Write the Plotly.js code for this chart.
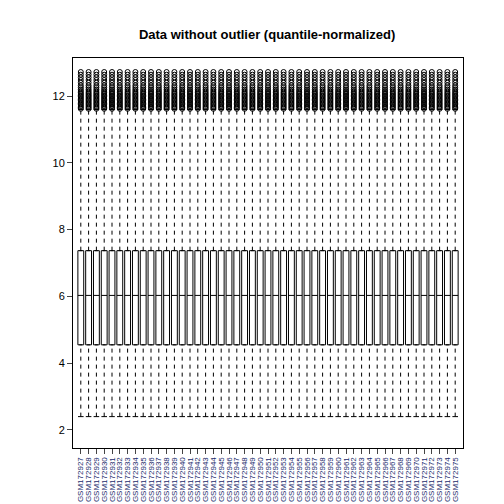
<!DOCTYPE html><html><head><script src="https://cdn.plot.ly/plotly-3.0.1.min.js"></script></head><body style="margin:0"><div id="c" style="width:504px;height:504px"></div><script>
const samples=[];for(let i=172927;i<=172975;i++)samples.push('GSM'+i);
const q1=4.55, med=6.03, q3=7.37, lowW=2.4, highW=11.6;
const outliers=[11.62,11.66,11.7,11.74,11.78,11.82,11.86,11.9,11.94,11.98,12.02,12.06,12.1,12.15,12.2,12.26,12.32,12.4,12.48,12.56,12.64,12.72];
const n=samples.length;
const traces=[{type:'box',x:samples,q1:Array(n).fill(q1),median:Array(n).fill(med),q3:Array(n).fill(q3),
lowerfence:Array(n).fill(q1),upperfence:Array(n).fill(q3),fillcolor:'white',line:{color:'black',width:1},width:0.75,boxpoints:false,showlegend:false,hoverinfo:'skip'}];
const wx=[],wy=[];samples.forEach(s=>{wx.push(s,s,null,s,s,null);wy.push(lowW,q1,null,q3,highW,null);});
traces.push({type:'scatter',mode:'lines',x:wx,y:wy,line:{color:'black',width:1,dash:'4px,4px'},showlegend:false,hoverinfo:'skip'});
const cx=[],cy=[];samples.forEach(s=>{cx.push(s,s);cy.push(lowW,highW);});
traces.push({type:'scatter',mode:'markers',x:cx,y:cy,marker:{symbol:'line-ew',size:4,line:{color:'black',width:1}},showlegend:false,hoverinfo:'skip'});
const ox=[],oy=[];samples.forEach(s=>outliers.forEach(v=>{ox.push(s);oy.push(v);}));
traces.push({type:'scatter',mode:'markers',x:ox,y:oy,marker:{symbol:'circle-open',size:5,color:'black',line:{width:1}},showlegend:false,hoverinfo:'skip'});
Plotly.newPlot('c',traces,{width:504,height:504,margin:{l:73,r:41,t:58,b:56},paper_bgcolor:'white',plot_bgcolor:'white',
title:{text:'<b>Data without outlier (quantile-normalized)</b>',x:0.53,y:0.94,font:{family:'Liberation Sans, Arial',size:13,color:'black'}},
font:{family:'Liberation Sans, Arial',size:11,color:'black'},
xaxis:{type:'category',tickmode:'array',tickvals:samples,ticktext:samples,tickangle:-90,showline:true,mirror:true,linecolor:'black',ticks:'outside',ticklen:5,showgrid:false,tickfont:{size:8,color:'#1a2a6c'},range:[-1,n]},
yaxis:{range:[1.46,13.14],tickvals:[2,4,6,8,10,12],showline:true,mirror:true,linecolor:'black',ticks:'outside',ticklen:5,showgrid:false,zeroline:false}},{displayModeBar:false});
</script></body></html>
